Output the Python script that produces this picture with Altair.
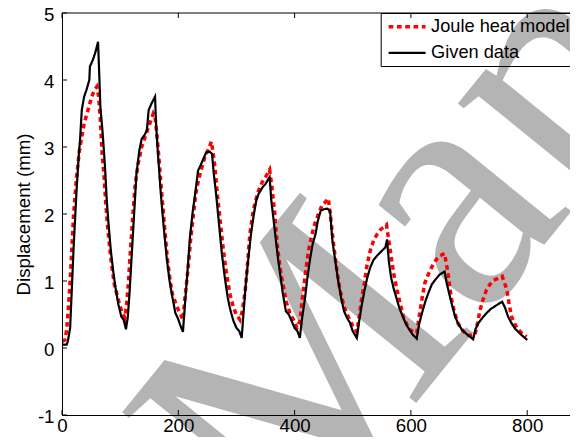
import altair as alt
import pandas as pd

series_names = ["Joule heat model", "Given data"]

model_x = [0, 5, 8, 11, 14, 17, 20, 25, 30, 34, 38, 43, 47, 51, 56, 60, 63, 66, 69, 72, 75, 78, 82, 86, 90, 95, 100, 104, 108,
           111, 114, 118, 122, 126, 131, 137, 143, 148, 153, 157, 160, 163, 167, 171, 176, 181, 186, 190, 195, 200, 204, 208,
           212, 217, 221, 226, 230, 235, 240, 246, 251, 257, 260, 263, 267, 272, 277, 283, 289, 295, 300, 306,
           310, 315, 319, 323, 328, 332, 338, 344, 350, 357, 361, 366, 370, 375, 380, 386, 392, 398, 404,
           409, 415, 420, 424, 430, 435, 441, 447, 453, 458, 462, 467, 472, 478, 485, 492, 500, 507,
           511, 515, 520, 524, 530, 536, 542, 548, 553, 558, 562, 567, 571, 576, 582, 587, 593, 599, 605, 610,
           613, 616, 620, 624, 630, 636, 642, 647, 653, 658, 661, 664, 667, 670, 675, 681, 690, 699, 710,
           714, 719, 724, 730, 736, 742, 750, 757, 761, 765, 769, 773, 779, 785, 792, 799]
model_y = [0.1, 0.12, 0.27, 0.6, 1.0, 1.5, 2.0, 2.55, 2.95, 3.15, 3.35, 3.5, 3.62, 3.75, 3.85, 3.9, 3.75, 3.4, 2.9, 2.6, 2.2, 1.85, 1.5, 1.2, 0.95, 0.78, 0.62, 0.52, 0.45,
           0.65, 0.95, 1.5, 2.0, 2.45, 2.75, 3.0, 3.15, 3.28, 3.4, 3.5, 3.45, 3.2, 2.8, 2.35, 1.85, 1.35, 1.0, 0.8, 0.68, 0.57, 0.5, 0.42,
           0.8, 1.2, 1.6, 2.0, 2.3, 2.52, 2.68, 2.86, 2.95, 3.08, 2.9, 2.7, 2.3, 1.9, 1.5, 1.1, 0.8, 0.6, 0.5, 0.42,
           0.55, 0.85, 1.25, 1.7, 2.0, 2.17, 2.35, 2.47, 2.55, 2.66, 2.4, 2.0, 1.55, 1.2, 0.95, 0.68, 0.52, 0.42, 0.3,
           0.4, 0.87, 1.2, 1.46, 1.7, 1.86, 2.0, 2.13, 2.18, 2.23, 1.95, 1.55, 1.2, 0.87, 0.62, 0.47, 0.33, 0.24,
           0.45, 0.72, 0.97, 1.21, 1.45, 1.61, 1.7, 1.77, 1.8, 1.84, 1.6, 1.31, 1.08, 0.87, 0.65, 0.47, 0.35, 0.27, 0.24, 0.22,
           0.4, 0.57, 0.78, 0.97, 1.1, 1.21, 1.3, 1.36, 1.39, 1.41, 1.25, 1.11, 0.9, 0.72, 0.53, 0.37, 0.25, 0.19, 0.19,
           0.35, 0.57, 0.72, 0.87, 0.95, 1.01, 1.04, 1.07, 0.97, 0.87, 0.65, 0.47, 0.35, 0.27, 0.21, 0.17]

given_x = [0, 8, 10, 14, 17, 20, 25, 29, 31, 34, 38, 42, 47, 48, 53, 57, 62, 64, 66, 70, 74, 77, 80, 84, 88, 92, 97, 102, 106, 110,
           113, 116, 120, 124, 128, 133, 137, 142, 146, 149, 154, 160, 162, 165, 170, 175, 180, 185, 190, 195, 199, 203, 208,
           211, 215, 220, 225, 229, 234, 238, 243, 248, 254, 258, 261, 265, 270, 275, 280, 285, 290, 295, 300, 305, 309,
           312, 316, 320, 325, 330, 334, 338, 345, 350, 357, 360, 364, 368, 372, 376, 380, 385, 390, 396, 400, 405, 409,
           413, 418, 422, 427, 431, 436, 440, 445, 450, 456, 461, 465, 470, 475, 480, 485, 490, 495, 500, 507,
           511, 515, 520, 525, 530, 536, 542, 550, 556, 559, 562, 566, 570, 575, 580, 586, 592, 597, 603, 610,
           614, 619, 625, 630, 636, 642, 650, 658, 662, 667, 672, 676, 682, 688, 697, 707,
           711, 716, 723, 730, 737, 744, 751, 757, 762, 767, 773, 779, 787, 796, 800]
given_y = [0.05, 0.05, 0.1, 0.3, 0.9, 1.5, 2.35, 2.9, 3.1, 3.55, 3.75, 3.85, 4.0, 4.2, 4.3, 4.4, 4.57, 4.1, 3.6, 3.2, 2.7, 2.2, 1.85, 1.45, 1.15, 0.9, 0.65, 0.47, 0.42, 0.28,
           0.45, 0.8, 1.4, 2.0, 2.6, 2.95, 3.12, 3.18, 3.25, 3.55, 3.65, 3.75, 3.3, 2.9, 2.3, 1.8, 1.35, 1.0, 0.75, 0.52, 0.45, 0.35, 0.24,
           0.6, 1.05, 1.65, 2.05, 2.3, 2.65, 2.72, 2.82, 2.92, 2.93, 2.9, 2.6, 2.3, 1.85, 1.4, 1.05, 0.75, 0.55, 0.4, 0.3, 0.25, 0.15,
           0.5, 0.95, 1.3, 1.7, 2.0, 2.2, 2.3, 2.4, 2.45, 2.55, 2.2, 1.9, 1.6, 1.3, 1.05, 0.8, 0.55, 0.5, 0.38, 0.3, 0.25, 0.15,
           0.45, 0.75, 1.05, 1.35, 1.55, 1.7, 1.9, 2.05, 2.07, 2.08, 2.05, 1.6, 1.3, 1.0, 0.75, 0.55, 0.45, 0.38, 0.25, 0.15,
           0.4, 0.62, 0.85, 1.05, 1.2, 1.32, 1.38, 1.45, 1.5, 1.62, 1.3, 1.05, 0.9, 0.75, 0.6, 0.47, 0.35, 0.28, 0.2, 0.14,
           0.35, 0.52, 0.7, 0.82, 0.95, 1.02, 1.1, 1.14, 0.95, 0.77, 0.6, 0.47, 0.35, 0.27, 0.2, 0.13,
           0.28, 0.37, 0.45, 0.52, 0.58, 0.62, 0.66, 0.69, 0.6, 0.47, 0.37, 0.29, 0.22, 0.15, 0.12]

x_ticks = [0, 200, 400, 600, 800]
y_ticks = [-1, 0, 1, 2, 3, 4, 5]
watermark_text = ["Manuscript"]
y_title = "Displacement (mm)"

FONT = "Liberation Sans"
FS = 18.7
W, H = 508, 402
TICK = 5

xscale = alt.Scale(domain=[0, 873.6], nice=False, zero=False)
yscale = alt.Scale(domain=[-1, 5], nice=False, zero=False)
color_scale = alt.Scale(domain=series_names, range=["#ff0000", "#000000"])
dash_scale = alt.Scale(domain=series_names, range=[[4.7, 3.6], [1, 0]])
width_scale = alt.Scale(domain=series_names, range=[3.5, 2.2])

leg = alt.Legend(
    orient="none", legendX=318.7, legendY=0, title=None,
    symbolType="M-0.98,0H5.18", symbolSize=144, labelOffset=27.5,
    padding=4.7, rowPadding=7, strokeColor="black",
    labelFont=FONT, labelFontSize=18.2, labelColor="black", labelLimit=400,
)

xaxis = alt.Axis(values=x_ticks, orient="bottom", domain=True, domainColor="black", domainWidth=1,
                 ticks=False, tickSize=0, labelPadding=1, labelFont=FONT, labelFontSize=FS,
                 labelColor="black", title=None, grid=False, zindex=1, labelOverlap=False,
                 labelFlush=False)
yaxis = alt.Axis(values=y_ticks, orient="left", domain=True, domainColor="black", domainWidth=1,
                 ticks=False, tickSize=0, labelPadding=8, labelFont=FONT, labelFontSize=FS,
                 labelColor="black", grid=False, zindex=1, labelOverlap=False, labelFlush=False,
                 labelOffset=1.5,
                 labelExpr="datum.value < 0 ? '-' + format(-datum.value, 'd') : datum.label",
                 title=y_title, titleFont=FONT, titleFontSize=FS, titleFontWeight="normal",
                 titleColor="black", titleAngle=270, titleBaseline="alphabetic",
                 titleX=-33, titleY=H / 2, titleAlign="center")


def line_layer(xs, ys, name):
    df = pd.DataFrame({"x": xs, "y": ys, "series": [name] * len(xs)})
    return alt.Chart(df).mark_line(clip=True).encode(
        x=alt.X("x:Q", scale=xscale, axis=xaxis),
        y=alt.Y("y:Q", scale=yscale, axis=yaxis),
        color=alt.Color("series:N", scale=color_scale, legend=leg),
        strokeDash=alt.StrokeDash("series:N", scale=dash_scale, legend=leg),
        strokeWidth=alt.StrokeWidth("series:N", scale=width_scale, legend=leg),
    )


wm = alt.Chart(pd.DataFrame({"t": watermark_text})).mark_text(
    font="Liberation Serif", fontSize=340, color="#b4b4b4", angle=309,
    align="left", baseline="alphabetic",
).encode(text="t:N", x=alt.value(227), y=alt.value(547))

model_layer = line_layer(model_x, model_y, series_names[0])
given_layer = line_layer(given_x, given_y, series_names[1])

xt = pd.DataFrame({"x": x_ticks})
yt = pd.DataFrame({"y": y_ticks})
bottom_ticks = alt.Chart(xt).mark_rule(color="black", strokeWidth=1).encode(
    x=alt.X("x:Q", scale=xscale, axis=xaxis), y=alt.value(H), y2=alt.value(H - TICK))
top_ticks = alt.Chart(xt).mark_rule(color="black", strokeWidth=1).encode(
    x=alt.X("x:Q", scale=xscale, axis=xaxis), y=alt.value(0), y2=alt.value(TICK))
left_ticks = alt.Chart(yt).mark_rule(color="black", strokeWidth=1).encode(
    y=alt.Y("y:Q", scale=yscale, axis=yaxis), x=alt.value(0), x2=alt.value(TICK))
top_border = alt.Chart(pd.DataFrame({"b": [0]})).mark_rule(color="black", strokeWidth=1).encode(
    x=alt.value(0), x2=alt.value(W), y=alt.value(0))

chart = alt.layer(
    wm, model_layer, given_layer, bottom_ticks, top_ticks, left_ticks, top_border
).properties(
    width=W, height=H,
    autosize=alt.AutoSizeParams(type="none"),
    padding={"left": 54, "top": 5, "right": 0, "bottom": 22},
).configure_view(stroke=None)

chart.save("out.html", embed_options={"renderer": "svg", "actions": False})
